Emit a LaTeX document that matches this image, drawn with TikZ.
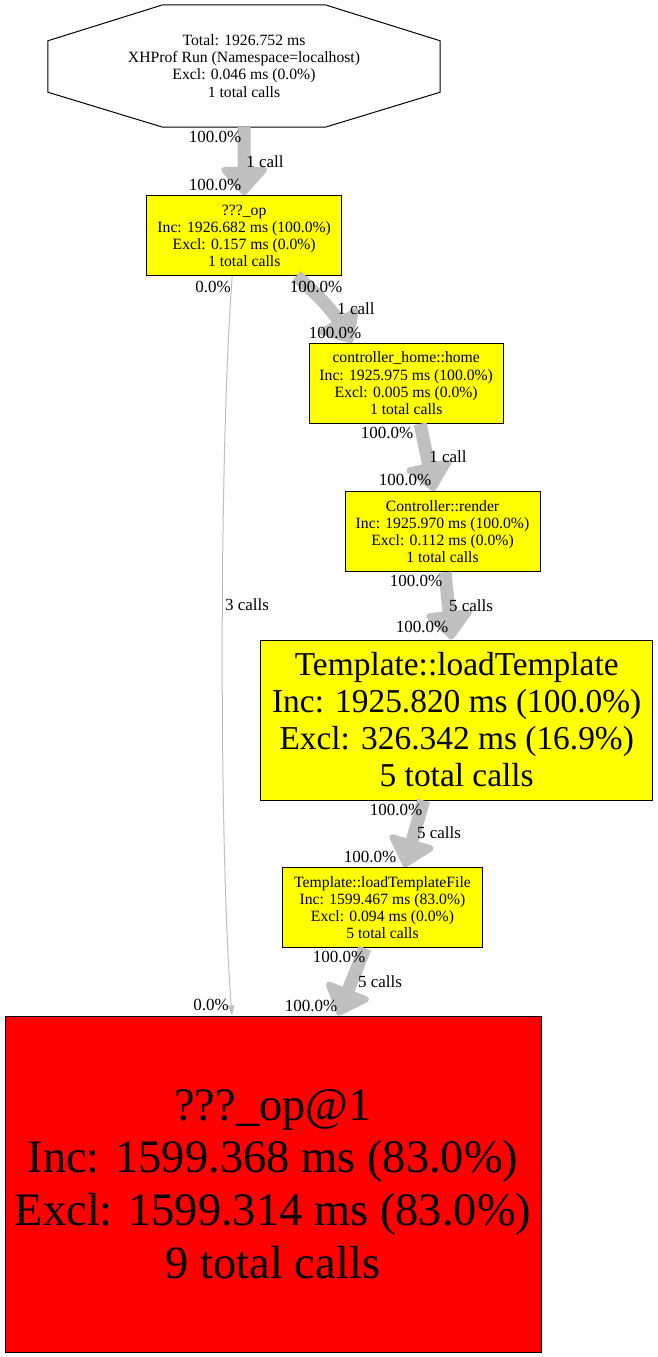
\documentclass[tikz,border=0pt]{standalone}
\usepackage{fontspec}
\setmainfont{Liberation Serif}
\usetikzlibrary{arrows.meta}
\definecolor{edgegray}{RGB}{192,192,192}
\definecolor{nodeyellow}{RGB}{255,255,0}
\definecolor{nodered}{RGB}{255,0,0}
\tikzset{
  fnbox/.style={draw=black, line width=1pt, inner sep=0pt, align=center,
    font=\fontsize{15.7}{17.2}\selectfont},
  yellowbox/.style={fnbox, fill=nodeyellow},
  lbl/.style={inner sep=0pt, font=\fontsize{17}{20}\selectfont},
  heavy/.style={draw=edgegray, line width=13pt,
    -{Triangle[width=52pt,length=30pt,line width=6pt,round]}},
  light/.style={draw=edgegray, line width=1pt, -{Triangle[width=6pt,length=10pt]}}
}
\begin{document}
\begin{tikzpicture}[x=1pt,y=-1pt]
\useasboundingbox[fill=white] (0,0) rectangle (657,1357);
% nodes
\node[inner sep=0pt, minimum width=392pt, minimum height=122pt, align=center,
  font=\fontsize{15.7}{17.2}\selectfont] (oct) at (244,66)
  {Total: 1926.752 ms\\XHProf Run (Namespace=localhost)\\Excl: 0.046 ms (0.0\%)\\1 total calls};
\draw[black, line width=1pt]
  ([xshift=115pt]oct.north west) -- ([xshift=-115pt]oct.north east)
  -- ([yshift=-36pt]oct.north east) -- ([yshift=35pt]oct.south east)
  -- ([xshift=-115pt]oct.south east) -- ([xshift=115pt]oct.south west)
  -- ([yshift=35pt]oct.south west) -- ([yshift=-36pt]oct.north west) -- cycle;

\node[yellowbox, minimum width=195pt, minimum height=80pt] (op) at (244.2,235.7)
  {???\_op\\Inc: 1926.682 ms (100.0\%)\\Excl: 0.157 ms (0.0\%)\\1 total calls};
\node[yellowbox, minimum width=194.3pt, minimum height=80pt] (home) at (406.2,383.3)
  {controller\_home::home\\Inc: 1925.975 ms (100.0\%)\\Excl: 0.005 ms (0.0\%)\\1 total calls};
\node[yellowbox, minimum width=195pt, minimum height=80pt] (render) at (442.5,531.7)
  {Controller::render\\Inc: 1925.970 ms (100.0\%)\\Excl: 0.112 ms (0.0\%)\\1 total calls};
\node[yellowbox, minimum width=392pt, minimum height=160pt,
  font=\fontsize{33.4}{37}\selectfont] (lt) at (456.7,720)
  {Template::loadTemplate\\Inc: 1925.820 ms (100.0\%)\\Excl: 326.342 ms (16.9\%)\\5 total calls};
\node[yellowbox, minimum width=199.6pt, minimum height=80pt] (ltf) at (382.5,907.7)
  {Template::loadTemplateFile\\Inc: 1599.467 ms (83.0\%)\\Excl: 0.094 ms (0.0\%)\\5 total calls};
\node[fnbox, fill=nodered, minimum width=536pt, minimum height=336pt,
  font=\fontsize{46.5}{52.7}\selectfont] (red) at (273,1184)
  {???\_op@1\\Inc: 1599.368 ms (83.0\%)\\Excl: 1599.314 ms (83.0\%)\\9 total calls};

% edges
\draw[heavy] (oct.south) -- (op.north);
\draw[heavy] ([xshift=52pt]op.south) to[out=-40,in=122] ([xshift=-54pt]home.north);
\draw[light] ([xshift=-12pt]op.south) .. controls (219,450) and (219,850) .. ([xshift=-41pt]red.north);
\draw[heavy] ([xshift=14pt]home.south) -- ([xshift=-8.5pt]render.north);
\draw[heavy] ([xshift=2.5pt]render.south) -- ([xshift=-5pt]lt.north);
\draw[heavy] ([xshift=-33pt]lt.south) -- ([xshift=22pt]ltf.north);
\draw[heavy] ([xshift=-17.5pt]ltf.south) -- ([xshift=65pt]red.north);

% labels
\node[lbl] (e1t) at (215,137) {100.0\%};
\node[lbl] (e1m) at (265,162) {1 call};
\node[lbl] (e1h) at (215,185) {100.0\%};
\node[lbl] (e2t) at (316,287) {100.0\%};
\node[lbl] (e2m) at (356,309) {1 call};
\node[lbl] (e2h) at (335,333) {100.0\%};
\node[lbl] (e7t) at (213,287) {0.0\%};
\node[lbl] (e7m) at (247,605) {3 calls};
\node[lbl] (e7h) at (211,1005) {0.0\%};
\node[lbl] (e3t) at (387,433) {100.0\%};
\node[lbl] (e3m) at (448,457) {1 call};
\node[lbl] (e3h) at (405,480) {100.0\%};
\node[lbl] (e4t) at (416,581) {100.0\%};
\node[lbl] (e4m) at (471,606) {5 calls};
\node[lbl] (e4h) at (422,627) {100.0\%};
\node[lbl] (e5t) at (396,810) {100.0\%};
\node[lbl] (e5m) at (439,833) {5 calls};
\node[lbl] (e5h) at (370,857) {100.0\%};
\node[lbl] (e6t) at (339,957) {100.0\%};
\node[lbl] (e6m) at (380,982) {5 calls};
\node[lbl] (e6h) at (311,1006) {100.0\%};
\end{tikzpicture}
\end{document}
